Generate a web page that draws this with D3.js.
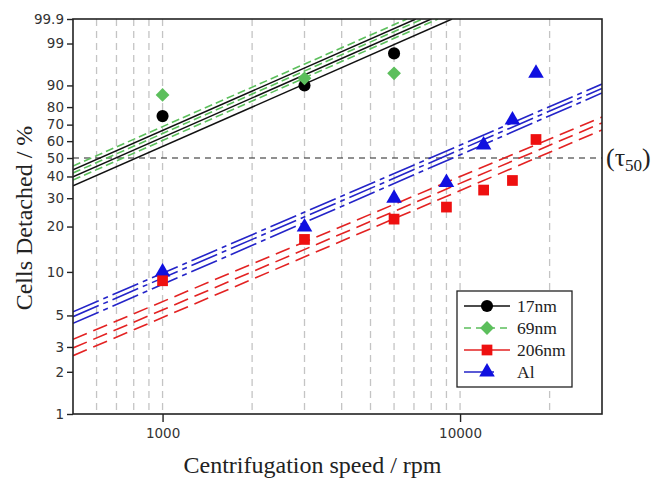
<!DOCTYPE html>
<html><head><meta charset="utf-8">
<script src="https://cdn.jsdelivr.net/npm/d3@7"></script>
<style>body{margin:0;background:#fff}</style>
</head><body>
<svg id="chart" width="662" height="478"></svg>
<script>
// ---- data ----
const xTicks = [1000, 10000];
const gridX = [600,700,800,900,1000,2000,3000,4000,5000,6000,7000,8000,9000,10000,20000];
const yTicks = [1,2,3,5,10,20,30,40,50,60,70,80,90,99,99.9];
const yTickLabels = ["1","2","3","5","10","20","30","40","50","60","70","80","90","99","99.9"];

const speeds17 = [1000, 3000, 6000];
const det17 = [75, 90, 98];
const det69 = [86, 92.5, 94];
const speedsAl = [1000, 3000, 6000, 9000, 12000, 15000, 18000];
const det206 = [8.7, 16.5, 22.3, 26.5, 33.5, 38, 61];
const detAl = [10, 19.9, 30, 37, 57.7, 72.7, 94];

// fitted lines with confidence bounds: [[speed, %],[speed, %]]
const fit17 = [[[500,35.4],[9400,99.9]], [[500,39.8],[8000,99.9]], [[500,43.4],[7100,99.9]]];
const fit69 = [[[500,38.2],[8430,99.9]], [[500,41.8],[7480,99.9]], [[500,45.5],[6630,99.9]]];
const fitAl = [[[500,4.4],[30000,86.9]], [[500,4.9],[30000,88.8]], [[500,5.3],[30000,90.5]]];
const fit206 = [[[500,2.6],[30000,66.8]], [[500,2.95],[30000,71]], [[500,3.4],[30000,74.5]]];

const legendNames = ["17nm","69nm","206nm","Al"];

// ---- layout ----
const L = 73, R = 602, T = 19, B = 414;
const svg = d3.select("#chart");
const wb = p => Math.log(-Math.log(1 - p/100)); // Weibull probability transform
const x = d3.scaleLog().domain([500, 30000]).range([L, R]);
const yl = d3.scaleLinear().domain([wb(1), wb(99.9)]).range([B, T]);
const y = p => yl(wb(p));

const defs = svg.append("defs");
defs.append("clipPath").attr("id","clip").append("rect")
  .attr("x",L).attr("y",T).attr("width",R-L).attr("height",B-T);

// grid
svg.append("g").selectAll("line").data(gridX).join("line")
  .attr("x1",d=>x(d)).attr("x2",d=>x(d)).attr("y1",T).attr("y2",B)
  .attr("stroke","#c4c4c4").attr("stroke-width",1.3).attr("stroke-dasharray","7,5");

// 50% line
svg.append("line").attr("x1",L).attr("x2",R).attr("y1",y(50)).attr("y2",y(50))
  .attr("stroke","#222").attr("stroke-width",1.2).attr("stroke-dasharray","6,5");

const styles = {
  s17: {c:"#111", dash:null, w:1.5},
  s69: {c:"#5cbf5c", dash:"8,4", w:1.6},
  s206:{c:"#e32222", dash:"15,7", w:1.6},
  sAl: {c:"#2424c8", dash:"28,5,5,5", w:1.6}
};

const line = d3.line().x(d=>x(d[0])).y(d=>y(d[1]));
const fg = svg.append("g").attr("clip-path","url(#clip)");
function drawFit(data, st){
  fg.append("g").selectAll("path").data(data).join("path")
    .attr("d", line).attr("fill","none").attr("stroke",st.c)
    .attr("stroke-width",st.w).attr("stroke-dasharray",st.dash);
}
drawFit(fit17, styles.s17);
drawFit(fit69, styles.s69);
drawFit(fitAl, styles.sAl);
drawFit(fit206, styles.s206);

// frame
svg.append("rect").attr("x",L).attr("y",T).attr("width",R-L).attr("height",B-T)
  .attr("fill","none").attr("stroke","#222").attr("stroke-width",1.6);

// markers
const mk = svg.append("g");
function drawPts(xs, ys, type, size, color, rot){
  mk.append("g").selectAll("path").data(xs.map((v,i)=>[v,ys[i]])).join("path")
    .attr("transform",d=>`translate(${x(d[0])},${y(d[1])}) rotate(${rot||0})`)
    .attr("d", d3.symbol().type(type).size(size)).attr("fill",color);
}
drawPts(speeds17, det17, d3.symbolCircle, 115, "#000");
drawPts(speeds17, det69, d3.symbolSquare, 95, styles.s69.c, 45);
drawPts(speedsAl, detAl, d3.symbolTriangle, 105, "#1010e0");
drawPts(speedsAl, det206, d3.symbolSquare, 115, "#ee1010");

// axes
const ya = svg.append("g").attr("transform",`translate(${L},0)`)
  .call(d3.axisLeft(yl).tickValues(yTicks.map(wb)).tickFormat((d,i)=>yTickLabels[i]).tickSize(6).tickPadding(3).tickSizeOuter(0));
const xa = svg.append("g").attr("transform",`translate(0,${B})`)
  .call(d3.axisBottom(x).tickValues(xTicks).tickFormat(d3.format("d")).tickSize(8).tickPadding(6).tickSizeOuter(0));
[ya, xa].forEach(a=>{
  a.select(".domain").remove();
  a.selectAll("line").attr("stroke","#222").attr("stroke-width",1.4);
  a.selectAll("text").attr("font-family","DejaVu Sans").attr("font-size","13.5px").attr("fill","#333");
});

// titles
svg.append("text").attr("x",(L+R)/2 - 25).attr("y",473).attr("text-anchor","middle")
  .attr("font-family","Liberation Serif").attr("font-size","24px").attr("fill","#222")
  .text("Centrifugation speed / rpm");
svg.append("text").attr("transform","translate(32,218) rotate(-90)").attr("text-anchor","middle")
  .attr("font-family","Liberation Serif").attr("font-size","24px").attr("fill","#222")
  .text("Cells Detached / %");

// tau label
const tau = svg.append("text").attr("x",606).attr("y",y(50)+8)
  .attr("font-family","Liberation Serif").attr("font-size","26px").attr("fill","#222");
tau.append("tspan").text("(τ");
tau.append("tspan").attr("font-size","17px").attr("dy",5).text("50");
tau.append("tspan").attr("dy",-5).text(")");

// legend
const lg = svg.append("g");
lg.append("rect").attr("x",457).attr("y",291).attr("width",115).attr("height",96)
  .attr("fill","#fff").attr("stroke","#222").attr("stroke-width",1.3);
const legStyles = [styles.s17, styles.s69, styles.s206, styles.sAl];
const legSym = [[d3.symbolCircle,115,"#000",0],[d3.symbolSquare,95,styles.s69.c,45],[d3.symbolSquare,115,"#ee1010",0],[d3.symbolTriangle,105,"#1010e0",0]];
const legDash = [null, "7,5", null, "21,4,5,30"];
legendNames.forEach((n,i)=>{
  const yy = 306 + i*22;
  lg.append("line").attr("x1",464).attr("x2",510).attr("y1",yy).attr("y2",yy)
    .attr("stroke",legStyles[i].c).attr("stroke-width",1.6).attr("stroke-dasharray",legDash[i]);
  lg.append("path").attr("transform",`translate(487,${yy}) rotate(${legSym[i][3]})`)
    .attr("d",d3.symbol().type(legSym[i][0]).size(legSym[i][1])).attr("fill",legSym[i][2]);
  lg.append("text").attr("x",517).attr("y",yy+6).attr("font-family","Liberation Serif")
    .attr("font-size","17.5px").attr("fill","#222").text(n);
});
</script>
</body></html>
